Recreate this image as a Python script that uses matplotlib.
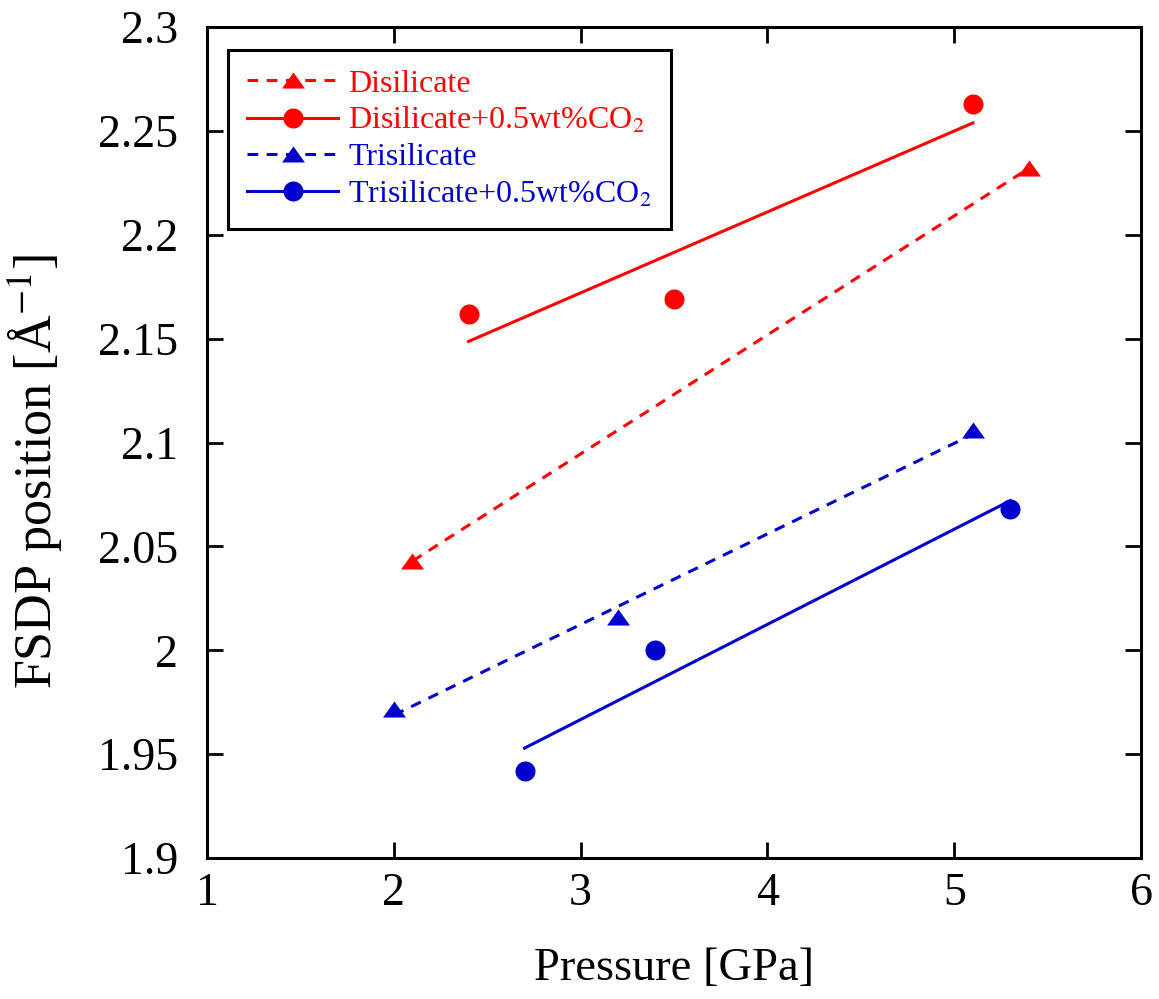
import numpy as np
import matplotlib
matplotlib.use("Agg")
import matplotlib.pyplot as plt

plt.rcParams['font.family'] = ['Liberation Serif', 'DejaVu Serif']
plt.rcParams['mathtext.fontset'] = 'stix'

# ---- data ----
di_p = [2.1, 5.4]
di_fsdp = [2.043, 2.232]

di_co2_p = [2.4, 3.5, 5.1]
di_co2_fsdp = [2.162, 2.169, 2.263]

tri_p = [2.0, 3.2, 5.1]
tri_fsdp = [1.972, 2.016, 2.106]

tri_co2_p = [2.7, 3.4, 5.3]
tri_co2_fsdp = [1.942, 2.000, 2.068]

RED = '#ff0000'
BLUE = '#0000cc'

# flatter triangle than matplotlib's '^'
TRI = [(-1, -0.7), (1, -0.7), (0, 0.7), (-1, -0.7)]
DASH = (0, (3.5, 2.8))

series = [
    (di_p, di_fsdp, RED, TRI, DASH, 'Disilicate'),
    (di_co2_p, di_co2_fsdp, RED, 'o', '-', 'Disilicate+0.5wt%CO$_2$'),
    (tri_p, tri_fsdp, BLUE, TRI, DASH, 'Trisilicate'),
    (tri_co2_p, tri_co2_fsdp, BLUE, 'o', '-', 'Trisilicate+0.5wt%CO$_2$'),
]

fig = plt.figure(figsize=(11.59, 9.99), dpi=100)
ax = fig.add_axes([0.1786, 0.141, 0.8059, 0.832])

handles = []
for x, y, c, m, ls, lab in series:
    x = np.array(x)
    y = np.array(y)
    ms = 14.4 if m == 'o' else 16.5
    # linear fit across the measured range
    k, b = np.polyfit(x, y, 1)
    xf = np.array([x.min(), x.max()])
    ax.plot(xf, k * xf + b, color=c, ls=ls, lw=2.2)
    ax.plot(x, y, ls='none', marker=m, color=c, markersize=ms, mec=c, mew=0)
    h, = ax.plot([], [], color=c, ls=ls, lw=2.2, marker=m, markersize=ms, mew=0)
    handles.append(h)

ax.set_xlim(1, 6)
ax.set_ylim(1.9, 2.3)
ax.set_xticks([1, 2, 3, 4, 5, 6])
ax.set_yticks([1.9, 1.95, 2.0, 2.05, 2.1, 2.15, 2.2, 2.25, 2.3])
ax.set_yticklabels(['1.9', '1.95', '2', '2.05', '2.1', '2.15', '2.2', '2.25', '2.3'])
ax.tick_params(direction='in', length=11.5, width=2, labelsize=33,
               top=True, right=True)
ax.tick_params(axis='x', pad=10)
ax.tick_params(axis='y', pad=21)
for s in ax.spines.values():
    s.set_linewidth(2.2)

ax.set_xlabel('Pressure [GPa]', fontsize=33.5)
ax.xaxis.set_label_coords(0.5, -0.108)
ax.set_ylabel('FSDP position [Å$^{-1}$]', fontsize=37.5)
ax.yaxis.set_label_coords(-0.153, 0.466)

leg = ax.legend(handles, [s[5] for s in series], loc='upper left',
                bbox_to_anchor=(0.0225, 0.9723), fontsize=23, frameon=True,
                fancybox=False, edgecolor='black', handlelength=2.85,
                numpoints=1, labelspacing=0.22, handletextpad=0.31,
                borderpad=0.6, borderaxespad=0)
leg.get_frame().set_linewidth(2.2)
leg.get_frame().set_alpha(1)
for t, s in zip(leg.get_texts(), series):
    t.set_color(s[2])

fig.savefig('out.png', dpi=100)
